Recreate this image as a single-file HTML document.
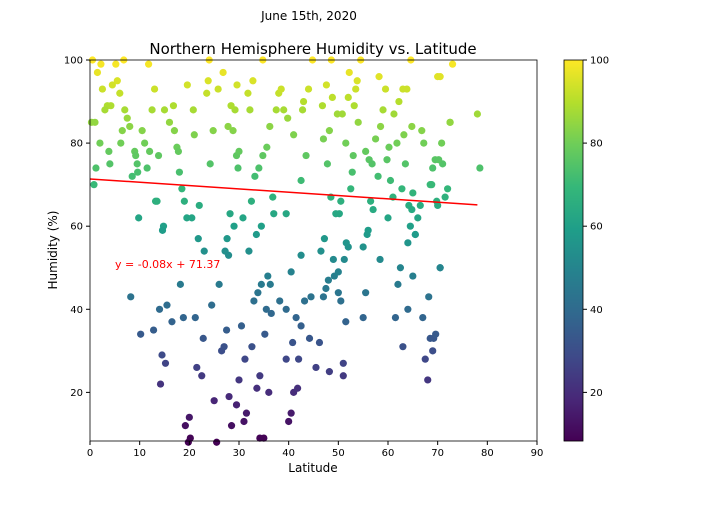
<!DOCTYPE html>
<html><head><meta charset="utf-8"><style>
body{margin:0;background:#fff;font-family:"Liberation Sans","DejaVu Sans",sans-serif}
svg text{font-family:"DejaVu Sans","Liberation Sans",sans-serif}
</style></head><body>
<svg id="c" width="720" height="504" xmlns="http://www.w3.org/2000/svg"></svg>
<script>
const lats = [0.5,1.5,2.5,3.5,1,2,4,0.8,3,4.5,2.2,3.8,1.2,0.3,4.2,
5.5,6,7,8,9,9.5,8.5,6.5,7.5,5.2,6.8,9.8,8.2,9.2,6.2,9.6,
10.2,10.5,11,12,11.5,12.5,13,13.5,12.8,14,14.5,14.2,14.8,14.6,13.2,13.8,11.8,
15.5,15.2,16.5,15,16,17,17.5,18,18.5,19,19.5,18.2,18.8,19.2,19.8,17.8,16.8,19.6,
20.2,20,21.5,22.5,22.8,21.2,23,21.8,22,20.5,21,20.8,23.5,23.8,24,24.5,25,24.2,24.8,
25.5,26.5,27,27.5,28,28.5,26,27.2,29,28.2,29.5,28.8,29.2,25.8,26.8,27.8,28.4,29.6,30,29.8,27.6,27.9,
31,31.5,29.5,30,31.2,30.5,33,34.5,32,33.5,30.8,32.5,33.2,34,32.2,31.8,32.8,34.8,34.2,33.6,32.6,33.8,
35,36,34.2,35.2,36.5,35.5,38.2,35.8,34.5,37,36.8,34.8,35.6,36.2,37.5,38,38.5,39,36.3,39.5,40,
40.5,41,41.8,42,40.8,42.5,41.5,39.5,44.5,40.5,42.5,39.5,42.5,43.5,41,39.8,42.8,43,44,44.8,43.2,44.2,
45.5,47,47.5,48,49,46.5,47.2,49.5,48.5,47.8,47,48.2,49.8,46.8,48.8,47.6,48.6,49.2,48.2,46.2,50,
51,51,51.5,50.5,50,51.2,52,50.2,50.5,52.5,52.8,53,51.5,54,50.8,53.2,52,53.5,53.8,52.2,54.5,51.6,
55,55.5,55,56,57,56.5,58,56.2,55.5,57.5,58.5,59,59.5,58.2,59.8,56.8,58.4,55.8,
63,61.5,62,62.5,64,64.5,60,64.2,61,62.8,60.5,63.5,60.2,61.8,63.2,64.8,61.2,62.2,63.8,64.6,65.5,65,
68,67.5,68.5,67,64,68.2,70.5,65.5,66,64.8,66.5,65,68.8,69,69.5,67.2,66.8,72.5,63,70,69.8,
70.5,70,71.5,72,68.5,71,70.2,70.8,72.5,70.5,73,69,69.2,69.6,
78,78.5];
const hums = [100,97,93,89,85,80,75,70,88,94,99,78,74,85,89,
95,92,88,84,78,75,72,83,86,99,100,62,43,77,80,73,
34,83,80,78,74,88,93,66,35,40,29,22,60,59,66,77,99,
41,27,37,88,85,83,79,73,69,66,62,46,38,12,8,78,89,94,
9,14,26,24,33,38,54,57,65,62,82,88,92,95,100,41,18,75,83,
8,30,31,35,19,12,46,54,60,63,77,83,88,93,97,84,89,94,78,74,57,53,
13,15,17,23,28,36,42,46,54,58,62,66,72,74,88,92,95,100,9,21,31,44,
9,20,24,34,39,40,42,48,60,63,67,77,79,84,88,92,93,88,46,28,13,
15,20,21,28,32,36,38,40,43,49,53,63,71,77,82,86,88,90,93,100,42,33,
26,43,45,47,52,54,57,63,67,75,81,83,87,89,91,94,100,48,25,32,44,
24,27,37,42,49,52,55,63,66,69,73,77,80,85,87,89,91,93,95,97,100,56,
38,44,55,59,64,66,72,76,78,81,84,88,93,96,76,75,52,58,
31,38,46,50,56,60,62,65,67,69,71,75,79,80,82,84,87,90,93,100,58,48,
23,28,33,38,40,43,50,58,62,64,65,68,70,74,76,80,83,85,93,96,66,
50,65,67,69,70,75,76,80,85,96,99,30,33,34,
87,74];
const xTicks = [0,10,20,30,40,50,60,70,80,90];
const yTicks = [20,40,60,80,100];
const cbTicks = [20,40,60,80,100];
const slope = -0.08, intercept = 71.37, lineX = [0,78];

const NS='http://www.w3.org/2000/svg', svg=document.getElementById('c');
const L=90,R=537,T=60,B=441, X0=0,X1=90, Y0=8.3,Y1=100;
const sx=v=>L+(v-X0)/(X1-X0)*(R-L), sy=v=>B-(v-Y0)/(Y1-Y0)*(B-T);
function mk(t,a,p){const e=document.createElementNS(NS,t);for(const k in a)e.setAttribute(k,a[k]);(p||svg).appendChild(e);return e;}
const vir=[[68,1,84],[72,40,120],[62,74,137],[49,104,142],[38,130,142],[31,158,137],[53,183,121],[109,205,89],[180,222,44],[253,231,37]];
function cmap(v){let t=Math.max(0,Math.min(1,(v-Y0)/(Y1-Y0)))*9;const i=Math.min(8,Math.floor(t)),f=t-i;const a=vir[i],b=vir[i+1];return `rgb(${a.map((c,k)=>Math.round(c+(b[k]-c)*f)).join(',')})`;}

let e;
e=mk('text',{x:309,y:20,'text-anchor':'middle','font-size':12});e.textContent='June 15th, 2020';


e=mk('text',{x:313,y:54,'text-anchor':'middle','font-size':15});e.textContent='Northern Hemisphere Humidity vs. Latitude';



const pts=mk('g',{});


for(let i=0;i<lats.length;i++){
  e=mk('circle',{cx:sx(lats[i]),cy:sy(hums[i]),r:3.6,fill:cmap(hums[i])},pts);
  
  
}
e=mk('line',{x1:sx(lineX[0]),y1:sy(slope*lineX[0]+intercept),x2:sx(lineX[1]),y2:sy(slope*lineX[1]+intercept),stroke:'red','stroke-width':1.5});


e=mk('text',{x:115,y:268,fill:'red','font-size':11});e.textContent='y = -0.08x + 71.37';



e=mk('rect',{x:L,y:T,width:R-L,height:B-T,fill:'none',stroke:'#000','stroke-width':0.8});


xTicks.forEach(v=>{const x=sx(v);mk('line',{x1:x,x2:x,y1:B,y2:B+4,stroke:'#000'});
  e=mk('text',{x:x,y:B+15,'text-anchor':'middle','font-size':10});e.textContent=v;
  
  });
yTicks.forEach(v=>{const y=sy(v);mk('line',{x1:L-4,x2:L,y1:y,y2:y,stroke:'#000'});
  e=mk('text',{x:L-7,y:y+3.5,'text-anchor':'end','font-size':10});e.textContent=v;
  
  });
e=mk('text',{x:313,y:472,'text-anchor':'middle','font-size':12});e.textContent='Latitude';


e=mk('text',{x:57,y:250,'text-anchor':'middle','font-size':12,transform:'rotate(-90 57 250)'});e.textContent='Humidity (%)';



const cb=mk('g',{});


const CL=564,CR=583;
for(let y=T;y<B;y++){mk('rect',{x:CL,y:y,width:CR-CL,height:1.2,fill:cmap(Y1-(y-T+0.5)/(B-T)*(Y1-Y0))},cb);}
mk('rect',{x:CL,y:T,width:CR-CL,height:B-T,fill:'none',stroke:'#000','stroke-width':0.8},cb);
cbTicks.forEach(v=>{const y=sy(v);mk('line',{x1:CR,x2:CR+4,y1:y,y2:y,stroke:'#000'},cb);
  e=mk('text',{x:CR+7,y:y+3.5,'font-size':10},cb);e.textContent=v;
  
  });
</script>
</body></html>
